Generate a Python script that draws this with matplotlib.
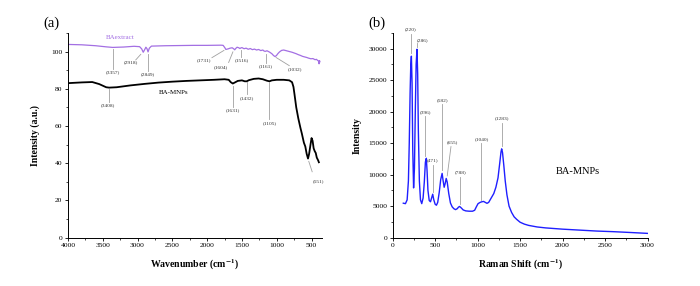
import matplotlib
matplotlib.use("Agg")
import matplotlib.pyplot as plt
from matplotlib.ticker import MultipleLocator

plt.rcParams["font.family"] = ["Liberation Serif", "DejaVu Serif"]
plt.rcParams["mathtext.fontset"] = "stix"

# FTIR (a): wavenumber / transmittance
ba_extract_wn = [4000, 3800, 3600, 3450, 3357, 3200, 3050, 2970, 2940, 2918, 2900,
                 2880, 2865, 2849, 2830, 2800, 2600, 2400, 2200, 2000, 1800, 1770,
                 1745, 1731, 1700, 1670, 1640, 1620, 1604, 1590, 1570, 1545, 1530,
                 1516, 1500, 1470, 1440, 1410, 1380, 1350, 1320, 1290, 1260, 1230,
                 1200, 1180, 1161, 1140, 1100, 1070, 1045, 1025, 1005, 985, 960,
                 930, 900, 870, 840, 810, 780, 750, 720, 690, 660, 630, 600, 570,
                 540, 510, 480, 450, 430, 410, 398, 392, 386, 380]
ba_extract_t = [103.8, 103.6, 103.1, 102.5, 102.2, 102.4, 102.8, 102.6, 101.4, 99.6, 100.8,
                102.3, 101.6, 99.8, 101.8, 102.9, 103.1, 103.2, 103.3, 103.3, 103.4, 103.3,
                102.0, 101.1, 101.4, 101.8, 102.0, 101.5, 100.9, 101.6, 102.3, 102.0, 101.6,
                101.9, 102.1, 101.5, 101.8, 101.2, 101.6, 101.0, 101.3, 100.8, 101.1, 100.5,
                100.8, 100.2, 100.1, 100.4, 99.6, 98.8, 97.8, 97.3, 97.8, 98.8, 99.8,
                100.6, 100.8, 100.5, 100.2, 99.9, 99.6, 99.2, 98.8, 98.3, 97.9, 97.4, 97.1, 96.8,
                96.4, 96.1, 96.2, 95.6, 95.8, 95.1, 94.9, 93.4, 95.1, 94.5]

ba_mnps_wn = [4000, 3800, 3650, 3550, 3450, 3408, 3300, 3100, 2900, 2700, 2500, 2300,
              2100, 1900, 1750, 1690, 1660, 1631, 1600, 1560, 1500, 1460, 1432, 1400,
              1330, 1260, 1200, 1140, 1105, 1070, 1000, 900, 820, 780, 760, 745, 720,
              690, 660, 640, 610, 590, 570, 551, 535, 515, 500, 485, 470, 455, 440,
              425, 405, 395]
ba_mnps_t = [83.0, 83.4, 83.6, 82.5, 80.8, 80.6, 80.8, 81.8, 82.6, 83.3, 83.8, 84.2,
             84.5, 84.8, 85.1, 84.8, 83.5, 82.8, 83.4, 84.2, 84.5, 84.0, 84.0, 84.6,
             85.3, 85.5, 85.1, 84.3, 84.0, 84.5, 84.8, 84.8, 84.5, 83.5, 81.0, 77.0, 70.0,
             64.0, 59.0, 56.0, 51.0, 49.0, 45.0, 42.5, 45.0, 50.0, 53.5, 52.0, 48.0, 46.5, 45.5,
             43.0, 41.5, 40.5]

# Raman (b): shift / intensity
raman_shift = [125, 150, 170, 185, 195, 205, 213, 220, 228, 236, 246, 256, 266, 276,
               286, 294, 302, 314, 327, 342, 358, 372, 385, 396, 405, 415, 430, 445,
               458, 471, 484, 500, 515, 530, 548, 565, 582, 594, 606, 618, 630, 642,
               660, 680, 700, 720, 740, 760, 775, 788, 805, 830, 860, 900, 940, 965,
               985, 1005, 1030, 1050, 1070, 1090, 1110, 1130, 1160, 1190, 1215, 1240,
               1260, 1275, 1283, 1293, 1308, 1325, 1345, 1370, 1400, 1430, 1460, 1500,
               1550, 1600, 1700, 1800, 1900, 2000, 2200, 2400, 2600, 2800, 3000]
raman_int = [5470, 5400, 6000, 9000, 15000, 23000, 27500, 28800, 24500, 14000, 7900, 11000, 20000, 27500,
             29900, 26000, 17000, 9000, 6000, 5400, 6300, 8800, 12000, 12600, 10500, 7500, 5900, 5700,
             6300, 6900, 6000, 5300, 5150, 5600, 7200, 9200, 10200, 9000, 8000, 8600, 9400, 8800,
             7000, 5500, 4900, 4600, 4450, 4600, 4850, 4950, 4750, 4400, 4250, 4200, 4200, 4350,
             4900, 5400, 5600, 5700, 5750, 5600, 5450, 5600, 6300, 7000, 8000, 9500,
             11800, 13600, 14100, 13500, 11500, 9000, 6800, 5000, 4000, 3300, 2900, 2450,
             2150, 1950, 1700, 1550, 1450, 1350, 1200, 1050, 950, 820, 680]

# peak labels: text, text position, leader line ends
ftir_labels = ["(3357)", "(2918)", "(2849)", "(1731)", "(1604)", "(1516)", "(1161)", "(1032)",
               "(3408)", "(1631)", "(1432)", "(1105)", "(551)"]
ftir_text_xy = [(3357, 88.7), (3101, 94.1), (2849, 87.8), (2043, 95.5), (1804, 91.7),
                (1502, 95.5), (1163, 91.9), (733, 90.8), (3430, 71.0), (1636, 68.3),
                (1430, 75.2), (1103, 61.7), (403, 30.2)]
ftir_lines = [((3357, 101.3), (3357, 90.5)), ((2953, 98.5), (3025, 95.5)),
              ((2849, 98.8), (2849, 89.6)), ((1758, 100.6), (1931, 96.7)),
              ((1630, 99.8), (1691, 94.1)), ((1519, 100.6), (1519, 97.3)),
              ((1161, 98.8), (1161, 93.6)), ((1010, 96.8), (820, 92.4)),
              ((3408, 80.0), (3408, 72.8)), ((1631, 81.6), (1631, 70.3)),
              ((1432, 83.4), (1432, 77.0)), ((1105, 83.4), (1105, 63.5)),
              ((540, 41.0), (491, 35.4))]

raman_labels = ["(220)", "(286)", "(396)", "(471)", "(582)", "(655)", "(788)", "(1040)", "(1283)"]
raman_text_xy = [(215, 33050), (350, 31400), (385, 19900), (470, 12250), (583, 21800),
                 (700, 15150), (800, 10350), (1047, 15700), (1290, 18900)]
raman_lines = [((215, 32300), (215, 29300)), ((286, 30950), (286, 30250)),
               ((385, 19300), (385, 13000)), ((471, 11600), (471, 7300)),
               ((582, 21150), (582, 10700)), ((686, 14450), (642, 9800)),
               ((788, 9650), (788, 5300)), ((1040, 15050), (1040, 5900)),
               ((1283, 18250), (1283, 14600))]

fig = plt.figure(figsize=(7, 2.86), dpi=100)
ax1 = fig.add_axes([0.097, 0.169, 0.363, 0.716])
ax2 = fig.add_axes([0.561, 0.169, 0.364, 0.716])


def style_axis(ax):
    for s in ["top", "right"]:
        ax.spines[s].set_visible(False)
    for s in ["left", "bottom"]:
        ax.spines[s].set_linewidth(0.7)
    ax.tick_params(which="major", direction="out", length=2.5, width=0.6, labelsize=5.4, pad=1.5)
    ax.tick_params(which="minor", direction="out", length=1.5, width=0.5)


def put_labels(ax, labels, text_xy, lines):
    for lab, (tx, ty), ((x0, y0), (x1, y1)) in zip(labels, text_xy, lines):
        ax.plot([x0, x1], [y0, y1], color="#a0a0a0", lw=0.6)
        ax.text(tx, ty, lab, fontsize=3.9, ha="center", va="center", color="#333333")


# (a) FTIR
ax1.plot(ba_extract_wn, ba_extract_t, color="#a36fe3", lw=0.9)
ax1.plot(ba_mnps_wn, ba_mnps_t, color="black", lw=1.3)
put_labels(ax1, ftir_labels, ftir_text_xy, ftir_lines)
ax1.text(3250, 107.5, "BAextract", fontsize=5, color="#a36fe3", ha="center", va="center")
ax1.text(2485, 77.9, "BA-MNPs", fontsize=5, color="black", ha="center", va="center")
ax1.set_xlim(4000, 350)
ax1.set_ylim(0, 110)
ax1.xaxis.set_major_locator(MultipleLocator(500))
ax1.xaxis.set_minor_locator(MultipleLocator(250))
ax1.set_yticks([0, 20, 40, 60, 80, 100])
ax1.yaxis.set_minor_locator(MultipleLocator(10))
style_axis(ax1)
ax1.set_xlabel(r"Wavenumber (cm$^{\mathbf{-1}}$)", fontsize=7, fontweight="bold", labelpad=7)
ax1.set_ylabel("Intensity (a.u.)", fontsize=7, fontweight="bold", labelpad=8)

# (b) Raman
ax2.plot(raman_shift, raman_int, color="#1f1fff", lw=1.0)
put_labels(ax2, raman_labels, raman_text_xy, raman_lines)
ax2.text(2185, 10560, "BA-MNPs", fontsize=7.5, ha="center", va="center")
ax2.set_xlim(0, 3000)
ax2.set_ylim(0, 32500)
ax2.xaxis.set_major_locator(MultipleLocator(500))
ax2.xaxis.set_minor_locator(MultipleLocator(250))
ax2.yaxis.set_major_locator(MultipleLocator(5000))
ax2.yaxis.set_minor_locator(MultipleLocator(2500))
style_axis(ax2)
ax2.set_xlabel(r"Raman Shift (cm$^{\mathbf{-1}}$)", fontsize=7, fontweight="bold", labelpad=7)
ax2.set_ylabel("Intensity", fontsize=7, fontweight="bold", labelpad=5)

fig.text(51.7 / 700, 1 - 23.3 / 286, "(a)", fontsize=10.5, ha="center", va="center")
fig.text(377.3 / 700, 1 - 23.3 / 286, "(b)", fontsize=10.5, ha="center", va="center")

fig.savefig("out.png", dpi=100)
